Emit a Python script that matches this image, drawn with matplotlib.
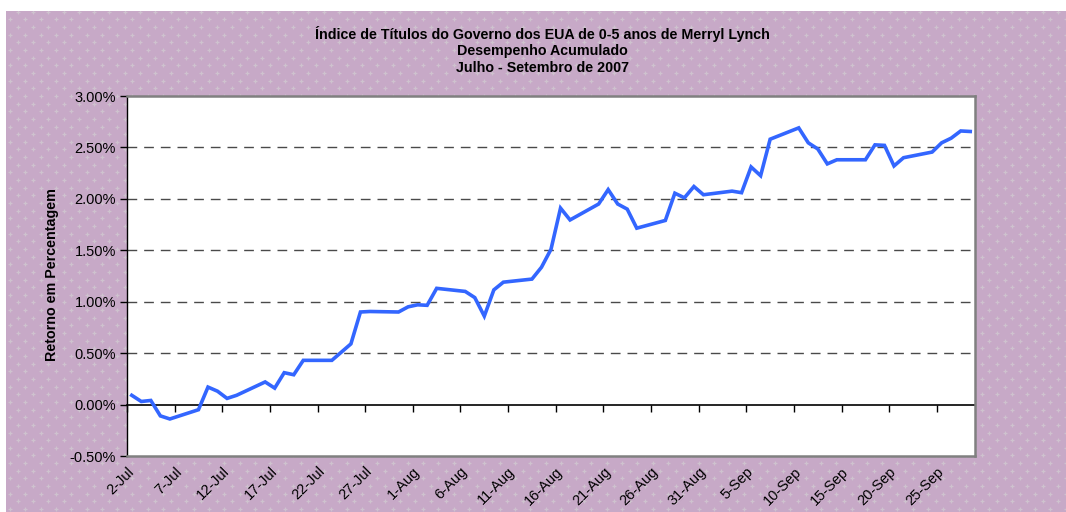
import matplotlib
matplotlib.use("Agg")
import matplotlib.pyplot as plt
import numpy as np
import pandas as pd
from matplotlib.patches import Rectangle

plt.rcParams['font.family'] = ['Liberation Sans', 'DejaVu Sans']

# ---- data ----
dates = ["2007-07-02", "2007-07-03", "2007-07-04", "2007-07-05", "2007-07-06",
         "2007-07-09", "2007-07-10", "2007-07-11", "2007-07-12", "2007-07-13",
         "2007-07-16", "2007-07-17", "2007-07-18", "2007-07-19", "2007-07-20",
         "2007-07-23", "2007-07-24", "2007-07-25", "2007-07-26", "2007-07-27",
         "2007-07-30", "2007-07-31", "2007-08-01", "2007-08-02", "2007-08-03",
         "2007-08-06", "2007-08-07", "2007-08-08", "2007-08-09", "2007-08-10",
         "2007-08-13", "2007-08-14", "2007-08-15", "2007-08-16", "2007-08-17",
         "2007-08-20", "2007-08-21", "2007-08-22", "2007-08-23", "2007-08-24",
         "2007-08-27", "2007-08-28", "2007-08-29", "2007-08-30", "2007-08-31",
         "2007-09-03", "2007-09-04", "2007-09-05", "2007-09-06", "2007-09-07",
         "2007-09-10", "2007-09-11", "2007-09-12", "2007-09-13", "2007-09-14",
         "2007-09-17", "2007-09-18", "2007-09-19", "2007-09-20", "2007-09-21",
         "2007-09-24", "2007-09-25", "2007-09-26", "2007-09-27", "2007-09-28"]
returns = [0.09, 0.03, 0.04, -0.11, -0.14,
           -0.05, 0.17, 0.13, 0.06, 0.09,
           0.22, 0.16, 0.31, 0.29, 0.43,
           0.43, 0.51, 0.59, 0.90, 0.905,
           0.90, 0.95, 0.97, 0.965, 1.13,
           1.10, 1.04, 0.86, 1.115, 1.19,
           1.22, 1.335, 1.51, 1.91, 1.795,
           1.95, 2.09, 1.95, 1.90, 1.715,
           1.79, 2.055, 2.01, 2.12, 2.04,
           2.075, 2.06, 2.31, 2.225, 2.58,
           2.69, 2.545, 2.485, 2.34, 2.38,
           2.38, 2.525, 2.52, 2.32, 2.40,
           2.455, 2.545, 2.59, 2.66, 2.655]
axis_start = "2007-07-02"
axis_end = "2007-09-28"
tick_step_days = 5
y_ticks = [-0.5, 0.0, 0.5, 1.0, 1.5, 2.0, 2.5, 3.0]
title_lines = ["Índice de Títulos do Governo dos EUA de 0-5 anos de Merryl Lynch",
               "Desempenho Acumulado",
               "Julho - Setembro de 2007"]
ylabel = "Retorno em Percentagem"

# ---- figure ----
W, H = 1066, 512
fig = plt.figure(figsize=(W / 100, H / 100), dpi=100)
fig.patch.set_facecolor('white')

bg_color = '#C7A9C7'
cross_color = '#CEC2CE'
bg = fig.add_axes([6 / W, 0, 1 - 6 / W, (H - 11) / H])
bg.set_xlim(0, W - 6)
bg.set_ylim(0, H - 11)
bg.set_facecolor(bg_color)
bg.axis('off')
bg.add_patch(Rectangle((0, 0), W - 6, H - 11, facecolor=bg_color, edgecolor='none'))
gx, gy = np.meshgrid(np.arange(4, W, 15.3), np.arange(3, H, 15.3))
bg.scatter(gx.ravel(), gy.ravel(), marker='+', s=9, linewidths=0.9, c=cross_color, zorder=1)
bg.scatter(gx.ravel() + 7.65, gy.ravel() + 7.65, marker='+', s=9, linewidths=0.9, c=cross_color, zorder=1)

# plot area
left, right, top, bottom = 127, 975, 96, 456
ax = fig.add_axes([left / W, (H - bottom) / H, (right - left) / W, (bottom - top) / H])
ax.set_facecolor('white')

d = pd.to_datetime(dates)
start = pd.Timestamp(axis_start)
end = pd.Timestamp(axis_end)
xi = (d - start).days.values
n_days = (end - start).days + 1

ax.plot(xi, returns, color='#3366FF', lw=2.6, solid_joinstyle='miter', zorder=5)

ax.set_xlim(-0.5, n_days - 0.5)
ax.set_ylim(y_ticks[0], y_ticks[-1])

for yv in y_ticks[1:-1]:
    if yv != 0:
        ax.axhline(yv, color='#4a4a4a', lw=1.0, ls=(0, (7, 5)), zorder=2)

# spines
for s in ['top', 'right']:
    ax.spines[s].set_color('#808080')
    ax.spines[s].set_linewidth(1.8)
ax.spines['left'].set_color('black')
ax.spines['left'].set_linewidth(1.0)
ax.spines['bottom'].set_color('#808080')
ax.spines['bottom'].set_linewidth(1.8)

tick_fs = 10.5
ax.set_yticks(y_ticks)
ax.set_yticklabels([f"{v:.2f}%" for v in y_ticks])
ax.tick_params(axis='y', direction='out', length=5, width=1, color='black',
               labelsize=tick_fs, pad=3)

tick_pos = np.arange(-0.5, n_days - 0.5, tick_step_days)
tick_labels = [(start + pd.Timedelta(days=int(p + 0.5))).strftime('%-d-%b') for p in tick_pos]
ax.set_xticks(tick_pos)
ax.set_xticklabels(tick_labels, rotation=45, ha='right', va='top', rotation_mode='anchor')
ax.tick_params(axis='x', length=0, labelsize=tick_fs, pad=6)

# zero axis line with ticks
zero_frac = (0 - y_ticks[0]) / (y_ticks[-1] - y_ticks[0])
sec = ax.secondary_xaxis(zero_frac)
sec.set_xticks(tick_pos)
sec.set_xticklabels([])
sec.tick_params(direction='out', length=5, width=1, color='black')
sec.spines['bottom'].set_color('black')
sec.spines['bottom'].set_linewidth(1.2)

# titles
for i, t in enumerate(title_lines):
    fig.text(542 / W, 1 - (34 + 17 * i) / H, t, ha='center', va='center',
             fontsize=10.3, fontweight='bold')

fig.text(52 / W, 1 - 275 / H, ylabel, rotation=90, ha='center', va='center',
         fontsize=10.3, fontweight='bold')

fig.savefig('out.png', dpi=100, facecolor=fig.get_facecolor())
